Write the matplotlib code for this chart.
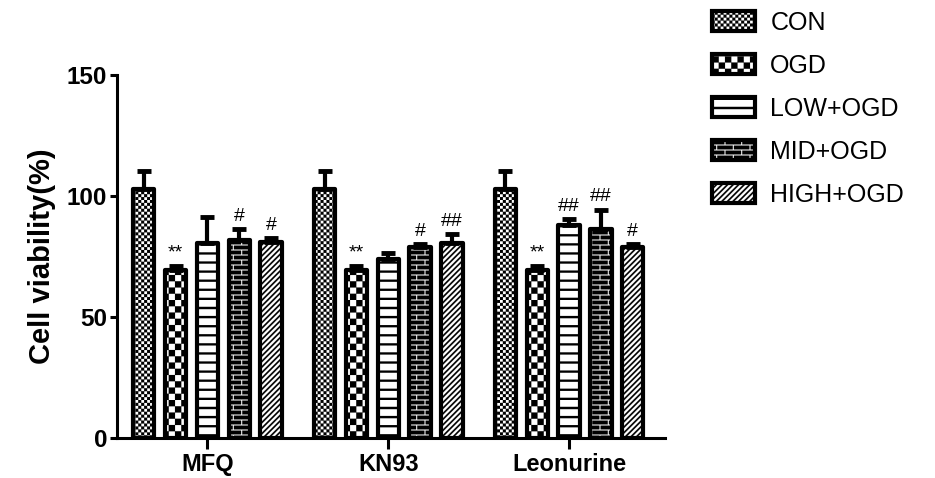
import warnings
import numpy as np
import matplotlib
matplotlib.use('Agg')
import matplotlib.pyplot as plt
import matplotlib.hatch as mhatch
from matplotlib.path import Path

warnings.filterwarnings('ignore')

plt.rcParams['font.family'] = ['Liberation Sans', 'DejaVu Sans']
plt.rcParams['hatch.linewidth'] = 0.1

# 数据
groups = ['MFQ', 'KN93', 'Leonurine']
series = ['CON', 'OGD', 'LOW+OGD', 'MID+OGD', 'HIGH+OGD']
con_mean = [103, 103, 103]
ogd_mean = [69.5, 69.5, 69.5]
low_mean = [80.5, 74, 88]
mid_mean = [82, 79, 86.5]
high_mean = [81, 80.5, 79]
con_err = [7.5, 7.5, 7.5]
ogd_err = [1.7, 1.7, 1.7]
low_err = [10.7, 2.4, 2.4]
mid_err = [4.5, 1.2, 7.9]
high_err = [1.6, 3.7, 1.0]
# 显著性标记
con_sig = ['', '', '']
ogd_sig = ['**', '**', '**']
low_sig = ['', '', '##']
mid_sig = ['#', '#', '##']
high_sig = ['#', '##', '#']


# 自定义填充图案 (Prism风格)
class PolyHatch(mhatch.HatchPatternBase):
    char = None

    def __init__(self, hatch, density):
        self.polys = self.make() if self.char in hatch else []
        self.num_vertices = sum(len(p) + 1 for p in self.polys)

    def make(self):
        return []

    def set_vertices_and_codes(self, vertices, codes):
        i = 0
        for p in self.polys:
            n = len(p)
            vertices[i:i + n] = p
            vertices[i + n] = p[0]
            codes[i] = Path.MOVETO
            codes[i + 1:i + n] = Path.LINETO
            codes[i + n] = Path.CLOSEPOLY
            i += n + 1


def rect(x0, y0, x1, y1):
    return np.array([[x0, y0], [x1, y0], [x1, y1], [x0, y1]])


class FineCheck(PolyHatch):
    char = 'c'

    def make(self):
        n = 34
        s = 1 / n
        return [rect(i * s, j * s, (i + 1) * s, (j + 1) * s)
                for i in range(n) for j in range(n) if (i + j) % 2 == 0]


class BigCheck(PolyHatch):
    char = 'k'

    def make(self):
        n = 16
        s = 1 / n
        return [rect(i * s, j * s, (i + 1) * s, (j + 1) * s)
                for i in range(n) for j in range(n) if (i + j) % 2 == 0]


class HBars(PolyHatch):
    char = 'h'

    def make(self):
        n = 11
        t = 0.022
        return [rect(0, k / n, 1, k / n + t) for k in range(n)]


class Bricks(PolyHatch):
    char = 'b'

    def make(self):
        rows, cols, g = 20, 6, 0.012
        h, L = 1 / rows, 1 / cols
        out = []
        for r in range(rows):
            off = L / 2 if r % 2 else 0
            for c in range(-1, cols + 1):
                out.append(rect(c * L + off + g / 2, r * h + g / 2,
                                (c + 1) * L + off - g / 2, (r + 1) * h - g / 2))
        return out


class Diag(PolyHatch):
    char = 'd'

    def make(self):
        n, w = 18, 0.022
        out = []
        for k in range(-n, n + 1):
            x0 = k / n
            out.append(np.array([[x0, 0], [x0 + w, 0], [x0 + w + 1, 1], [x0 + 1, 1]]))
        return out


mhatch._hatch_types.extend([FineCheck, BigCheck, HBars, Bricks, Diag])

means = [con_mean, ogd_mean, low_mean, mid_mean, high_mean]
errs = [con_err, ogd_err, low_err, mid_err, high_err]
sigs = [con_sig, ogd_sig, low_sig, mid_sig, high_sig]
hatches = ['c', 'k', 'h', 'b', 'd']

fig = plt.figure(figsize=(9.35, 4.78), dpi=100)
ax = fig.add_axes([0.1251, 0.0837, 0.7112 - 0.1251, 0.843 - 0.0837])

x = np.arange(len(groups))
step = 0.176
width = 0.118
bars = []
for i in range(len(series)):
    pos = x + (i - 2) * step
    b = ax.bar(pos, means[i], width, facecolor='white', edgecolor='black',
               linewidth=3, hatch=hatches[i], label=series[i], joinstyle='round', zorder=2)
    bars.append(b)
    ax.errorbar(pos, means[i], yerr=[np.zeros(len(groups)), errs[i]], fmt='none',
                ecolor='black', elinewidth=3, capsize=5, capthick=3.5, zorder=3)
    for j in range(len(groups)):
        if sigs[i][j]:
            ax.annotate(sigs[i][j], (pos[j], means[i][j] + errs[i][j]),
                        xytext=(0, 3), textcoords='offset points',
                        ha='center', va='bottom', fontsize=14)

ax.set_xlim(-0.5, 2.53)
ax.set_ylim(0, 150)
ax.set_yticks([0, 50, 100, 150])
ax.set_xticks(x)
ax.set_xticklabels(groups, fontsize=17, fontweight='bold')
for lab in ax.get_yticklabels():
    lab.set_fontsize(17.5)
    lab.set_fontweight('bold')
ax.set_ylabel('Cell viability(%)', fontsize=21, fontweight='bold', labelpad=8)
ax.spines['top'].set_visible(False)
ax.spines['right'].set_visible(False)
ax.spines['left'].set_linewidth(2.2)
ax.spines['bottom'].set_linewidth(2.2)
ax.tick_params(axis='y', length=5, width=2.2, pad=2)
ax.tick_params(axis='x', length=8, width=2.2, pad=3)

fig.legend(handles=bars, loc='upper left', bbox_to_anchor=(0.737, 1.024),
           frameon=False, fontsize=18, handlelength=1.75, handleheight=0.85,
           labelspacing=0.76, handletextpad=0.6)

fig.savefig('out.png', dpi=100)
